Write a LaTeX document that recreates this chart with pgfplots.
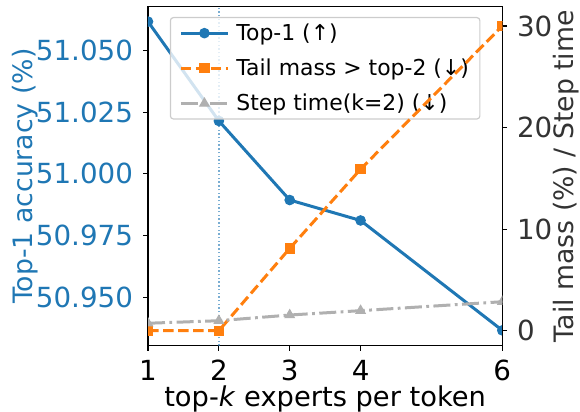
\documentclass[border=0pt]{standalone}
\usepackage{pgfplots}
\pgfplotsset{compat=1.18}
\usepackage{fontspec}
\setmainfont{DejaVu Sans}
\definecolor{tblue}{HTML}{1F77B4}
\definecolor{torange}{HTML}{FF7F0E}
\definecolor{tgray}{HTML}{B0B0B0}
\definecolor{rgray}{HTML}{333333}
\definecolor{lgray}{HTML}{CCCCCC}
\begin{document}
\begin{tikzpicture}
\pgfplotsset{
  base/.style={
    scale only axis, width=354.3bp, height=339bp,
    at={(0,0)}, anchor=south west,
    xmin=1, xmax=6,
    tick align=outside, major tick length=4.9bp,
    every tick/.style={line width=1.1bp, black},
    axis line style={line width=1.3bp, black},
    tick label style={font=\fontsize{27.8}{33}\selectfont, inner sep=0pt},
    label style={font=\fontsize{26.8}{32}\selectfont, inner sep=0pt},
    clip marker paths=true,
  }
}
\begin{axis}[base,
  ymin=50.93028, ymax=51.06786,
  xtick={1,2,3,4,6}, xticklabels={1,2,3,4,6},
  ytick={50.95,50.975,51,51.025,51.05},
  yticklabels={50.950,50.975,51.000,51.025,51.050},
  xtick pos=bottom, ytick pos=left,
  xticklabel style={anchor=north, yshift=-9.3bp},
  yticklabel style={anchor=east, xshift=-10bp, text=tblue},
  xlabel={top-\textit{k} experts per token},
  xlabel style={at={(axis description cs:0.5,-0.1785)}, anchor=base, font=\fontsize{27.4}{32}\selectfont},
  ylabel={Top-1 accuracy (\%)},
  ylabel style={at={(axis description cs:-0.3274,0.5)}, anchor=base, text=tblue},
  legend style={at={(axis description cs:0.5,0.9696)}, anchor=north,
    font=\fontsize{22}{26}\selectfont, draw=lgray, line width=1.2bp,
    rounded corners=3bp, fill=white, fill opacity=0.8, text opacity=1,
    inner xsep=9bp, inner ysep=4.5bp, row sep=13bp},
  legend cell align=left,
  legend image code/.code={%
    \draw[mark repeat=2,mark phase=2,#1, opacity=1] plot coordinates {(0bp,0bp) (23.5bp,0bp) (47bp,0bp)};
    \path (0bp,0bp) (52bp,0bp);},
]
\addplot[tblue, opacity=0.6, line width=1.4bp, dash pattern=on 1.4bp off 2.3bp, forget plot]
  coordinates {(2,50.93028) (2,51.06786)};
\addplot[tblue, line width=3bp, mark=*, mark size=4.8bp, mark options={solid, line width=1bp}]
  coordinates {(1,51.0618) (2,51.0215) (3,50.9894) (4,50.9811) (6,50.9365)};
\addlegendentry{Top-1 (↑)}
\addlegendimage{torange, line width=3bp, dash pattern=on 10.5bp off 4.5bp, mark=square*, mark size=4.6bp, mark options={solid, line width=1bp}}
\addlegendentry{Tail mass > top-2 (↓)}
\addlegendimage{tgray, line width=3bp, dash pattern=on 17bp off 4.4bp on 2.8bp off 4.4bp, mark=triangle*, mark size=5.4bp, mark options={solid, line width=1bp}}
\addlegendentry{Step time(k=2) (↓)}
\end{axis}
\begin{axis}[base,
  ymin=-1.48, ymax=31.9,
  axis x line=none, axis y line*=right,
  ytick={0,10,20,30}, yticklabels={0,10,20,30},
  ytick pos=right,
  yticklabel style={anchor=west, xshift=9.7bp, text=rgray},
  ylabel={Tail mass (\%) / Step time},
  ylabel style={at={(axis description cs:1.2004,0.5)}, anchor=base, text=rgray},
]
\addplot[torange, line width=3bp, dash pattern=on 10.5bp off 4.5bp, mark=square*, mark size=4.6bp, mark options={solid, line width=1bp}]
  coordinates {(1,0) (2,0) (3,8.1) (4,15.9) (6,30.0)};
\addplot[tgray, line width=3bp, dash pattern=on 17bp off 4.4bp on 2.8bp off 4.4bp, mark=triangle*, mark size=5.4bp, mark options={solid, line width=1bp}]
  coordinates {(1,0.73) (2,0.98) (3,1.54) (4,1.97) (6,2.85)};
\end{axis}
\pgfresetboundingbox
\path (-148bp,-66.3bp) rectangle (432bp,345.7bp);
\end{tikzpicture}
\end{document}
